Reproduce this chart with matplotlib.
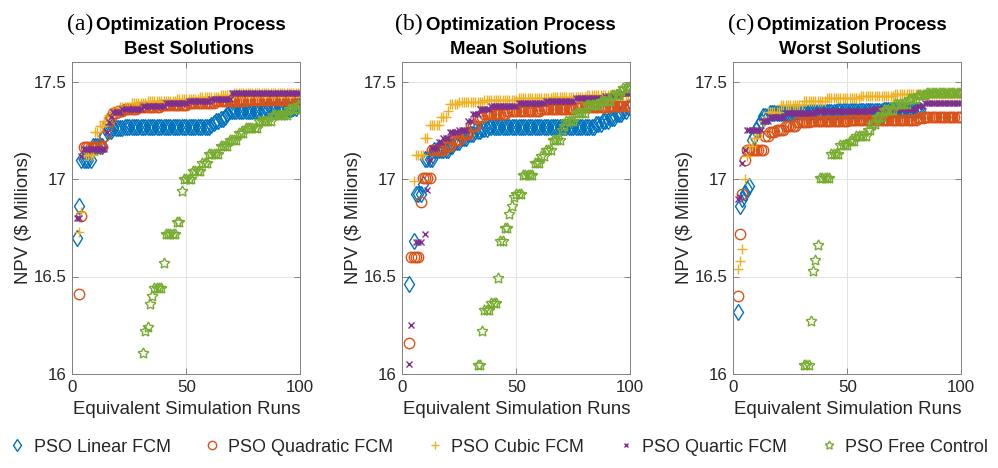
import numpy as np
import matplotlib
matplotlib.use("Agg")
import matplotlib.pyplot as plt
from matplotlib.ticker import FuncFormatter

plt.rcParams["font.family"] = ["Liberation Sans", "DejaVu Sans"]

# NPV ($ millions) traces, stored as runs: (first run, last run, value)
a_linear = [(2, 2, 16.70), (3, 3, 16.86), (4, 8, 17.10), (9, 13, 17.17), (14, 14, 17.22),
            (15, 17, 17.245), (18, 22, 17.26), (23, 60, 17.267), (61, 61, 17.275), (62, 62, 17.285),
            (63, 64, 17.30), (65, 66, 17.31), (67, 67, 17.32), (68, 68, 17.335), (69, 84, 17.35),
            (85, 96, 17.36), (97, 98, 17.365), (99, 100, 17.38)]
a_quadratic = [(3, 3, 16.41), (4, 4, 16.81), (5, 13, 17.165), (14, 14, 17.22), (15, 15, 17.27),
               (16, 16, 17.30), (17, 17, 17.32), (18, 19, 17.34), (20, 22, 17.35), (23, 28, 17.36),
               (29, 38, 17.37), (39, 50, 17.38), (51, 62, 17.39), (63, 75, 17.40), (76, 95, 17.405),
               (96, 100, 17.41)]
a_cubic = [(3, 3, 16.73), (4, 4, 16.83), (5, 9, 17.125), (10, 11, 17.24), (12, 13, 17.27),
           (14, 15, 17.30), (16, 17, 17.33), (18, 20, 17.35), (21, 25, 17.37), (26, 32, 17.39),
           (33, 45, 17.40), (46, 55, 17.41), (56, 64, 17.42), (65, 70, 17.43), (71, 100, 17.44)]
a_quartic = [(2, 3, 16.80), (4, 4, 17.12), (5, 14, 17.155), (15, 15, 17.24), (16, 16, 17.29),
             (17, 17, 17.32), (18, 21, 17.345), (22, 30, 17.36), (31, 40, 17.375), (41, 50, 17.39),
             (51, 60, 17.40), (61, 69, 17.41), (70, 100, 17.44)]
a_free = [(31, 31, 16.11), (32, 32, 16.22), (33, 33, 16.24), (34, 34, 16.36), (35, 35, 16.40),
          (36, 39, 16.44), (40, 40, 16.57), (41, 45, 16.72), (46, 47, 16.78), (48, 48, 16.94),
          (49, 52, 17.00), (53, 56, 17.04), (57, 59, 17.08), (60, 64, 17.13), (65, 68, 17.17),
          (69, 72, 17.20), (73, 75, 17.235), (76, 81, 17.26), (82, 87, 17.30), (88, 94, 17.33),
          (95, 98, 17.36), (99, 100, 17.38)]

b_linear = [(3, 3, 16.46), (5, 5, 16.68), (6, 8, 16.925), (9, 9, 16.975), (10, 13, 17.105),
            (14, 20, 17.15), (21, 22, 17.17), (23, 25, 17.19), (26, 28, 17.21), (29, 31, 17.23),
            (32, 34, 17.245), (35, 37, 17.255), (38, 84, 17.265), (85, 87, 17.28), (88, 90, 17.295),
            (91, 93, 17.315), (94, 96, 17.335), (97, 98, 17.35), (99, 100, 17.37)]
b_quadratic = [(3, 3, 16.16), (4, 7, 16.60), (8, 8, 16.88), (9, 12, 17.005), (13, 18, 17.15),
               (19, 21, 17.17), (22, 25, 17.20), (26, 29, 17.23), (30, 32, 17.27), (33, 35, 17.32),
               (36, 45, 17.335), (46, 60, 17.35), (61, 75, 17.36), (76, 90, 17.37), (91, 100, 17.375)]
b_cubic = [(5, 5, 16.99), (6, 9, 17.125), (10, 11, 17.21), (12, 16, 17.275), (17, 19, 17.32),
           (20, 20, 17.35), (21, 24, 17.385), (25, 35, 17.395), (36, 50, 17.405), (51, 65, 17.415),
           (66, 80, 17.42), (81, 100, 17.43)]
b_quartic = [(3, 3, 16.05), (4, 4, 16.25), (6, 8, 16.675), (10, 10, 16.72), (11, 11, 16.945),
             (12, 12, 17.10), (13, 15, 17.16), (16, 17, 17.19), (18, 20, 17.21), (21, 24, 17.24),
             (25, 28, 17.25), (29, 30, 17.30), (31, 33, 17.335), (34, 38, 17.36), (39, 50, 17.375),
             (51, 62, 17.39), (63, 75, 17.40), (76, 88, 17.415), (89, 95, 17.425), (96, 100, 17.44)]
b_free = [(33, 34, 16.045), (35, 35, 16.22), (36, 38, 16.33), (39, 41, 16.365), (42, 42, 16.49),
          (43, 44, 16.68), (45, 46, 16.75), (47, 47, 16.82), (48, 48, 16.86), (49, 49, 16.91),
          (50, 52, 16.925), (53, 57, 17.02), (58, 60, 17.08), (61, 62, 17.12), (63, 65, 17.15),
          (66, 69, 17.20), (70, 70, 17.25), (71, 71, 17.27), (72, 75, 17.30), (76, 80, 17.34),
          (81, 86, 17.38), (87, 91, 17.40), (92, 95, 17.43), (96, 96, 17.45), (97, 100, 17.465)]

c_linear = [(2, 2, 16.32), (3, 3, 16.86), (4, 4, 16.90), (5, 5, 16.93), (6, 6, 16.95),
            (7, 7, 16.965), (8, 8, 17.20), (9, 9, 17.22), (10, 10, 17.25), (11, 11, 17.27),
            (12, 12, 17.30), (13, 15, 17.325), (16, 25, 17.34), (26, 45, 17.345), (46, 65, 17.35),
            (66, 82, 17.355)]
c_quadratic = [(2, 2, 16.40), (3, 3, 16.72), (4, 4, 16.925), (5, 5, 17.10), (6, 13, 17.15),
               (14, 15, 17.22), (16, 18, 17.24), (19, 22, 17.25), (23, 27, 17.27), (28, 33, 17.29),
               (34, 50, 17.30), (51, 80, 17.305), (81, 83, 17.315), (84, 100, 17.32)]
c_cubic = [(2, 2, 16.54), (3, 3, 16.58), (4, 4, 16.64), (5, 5, 17.00), (6, 6, 17.12),
           (7, 8, 17.17), (9, 10, 17.21), (11, 12, 17.24), (13, 14, 17.30), (15, 20, 17.345),
           (21, 30, 17.38), (31, 40, 17.40), (41, 55, 17.415), (56, 70, 17.425), (71, 100, 17.435)]
c_quartic = [(2, 2, 16.90), (3, 3, 16.91), (4, 4, 17.08), (5, 5, 17.15), (6, 12, 17.25),
             (13, 15, 17.30), (16, 22, 17.32), (23, 35, 17.34), (36, 60, 17.35), (61, 80, 17.36),
             (81, 83, 17.375), (84, 100, 17.39)]
c_free = [(31, 33, 16.045), (34, 34, 16.27), (35, 35, 16.53), (36, 36, 16.585), (37, 37, 16.66),
          (38, 42, 17.005), (43, 46, 17.13), (47, 50, 17.175), (51, 53, 17.195), (54, 58, 17.22),
          (59, 60, 17.25), (61, 62, 17.28), (63, 65, 17.32), (66, 70, 17.355), (71, 76, 17.385),
          (77, 80, 17.41), (81, 84, 17.43), (85, 100, 17.443)]

methods = ["PSO Linear FCM", "PSO Quadratic FCM", "PSO Cubic FCM", "PSO Quartic FCM", "PSO Free Control"]
panel_tags = ["(a)", "(b)", "(c)"]
panel_subtitles = ["Best Solutions", "Mean Solutions", "Worst Solutions"]
panel_data = [
    [a_linear, a_quadratic, a_cubic, a_quartic, a_free],
    [b_linear, b_quadratic, b_cubic, b_quartic, b_free],
    [c_linear, c_quadratic, c_cubic, c_quartic, c_free],
]

# matlab default colour order + marker per method
colors = ["#0072BD", "#D95319", "#EDB120", "#7E2F8E", "#77AC30"]
markers = ["d", "o", "+", "x", (5, 1, 0)]
msizes = [8, 7.5, 7, 3.8, 8]


def expand(runs):
    xs, ys = [], []
    for x0, x1, v in runs:
        for x in range(x0, x1 + 1):
            xs.append(x)
            ys.append(v)
    return np.array(xs), np.array(ys)


W, H = 998, 468
fig = plt.figure(figsize=(W / 100, H / 100), dpi=100)
lefts = [72.3, 402.3, 733.3]
ax_w, ax_top, ax_bot = 228, 62, 374

spine_col = "#808080"
text_col = "#262626"
handles = []
for i, left in enumerate(lefts):
    ax = fig.add_axes([left / W, 1 - ax_bot / H, ax_w / W, (ax_bot - ax_top) / H])
    for k, runs in enumerate(panel_data[i]):
        xs, ys = expand(runs)
        filled = markers[k] in ("+", "x")
        h, = ax.plot(xs, ys, linestyle="none", marker=markers[k], markersize=msizes[k],
                     markerfacecolor=colors[k] if filled else "none",
                     markeredgecolor=colors[k], markeredgewidth=1.0, label=methods[k])
        if i == 0:
            handles.append(h)
    ax.set_xlim(0, 100)
    ax.set_ylim(16, 17.6)
    ax.set_xticks([0, 50, 100])
    ax.set_yticks([16, 16.5, 17, 17.5])
    ax.yaxis.set_major_formatter(FuncFormatter(lambda v, p: f"{v:g}"))
    ax.grid(True, color="#e2e2e2", linewidth=0.7)
    ax.set_axisbelow(True)
    for s in ax.spines.values():
        s.set_color(spine_col)
        s.set_linewidth(0.7)
    ax.tick_params(direction="in", length=4, width=0.7, color=spine_col, top=True, right=True,
                   labelsize=12.2, labelcolor=text_col, pad=4)
    ax.set_xlabel("Equivalent Simulation Runs", fontsize=13.4, color=text_col, labelpad=5)
    ax.set_ylabel("NPV ($ Millions)", fontsize=13.4, color=text_col)
    ax.yaxis.set_label_coords(-0.175, 0.5)

    ax.text(0.09, 1.1026, panel_tags[i], transform=ax.transAxes, ha="right", va="baseline",
            fontsize=17, family="Liberation Serif", color="black")
    ax.text(0.105, 1.1026, "Optimization Process", transform=ax.transAxes, ha="left",
            va="baseline", fontsize=13.4, fontweight="bold", color="black")
    ax.text(0.51, 1.0256, panel_subtitles[i], transform=ax.transAxes, ha="center",
            va="baseline", fontsize=13.4, fontweight="bold", color="black")

fig.legend(handles=handles, loc="center", bbox_to_anchor=(0.5, 1 - 447 / H), ncol=5,
           frameon=False, fontsize=13, handlelength=0.8, handletextpad=0.5,
           columnspacing=1.9, markerscale=0.8, labelcolor=text_col)

fig.savefig("out.png", dpi=100)
